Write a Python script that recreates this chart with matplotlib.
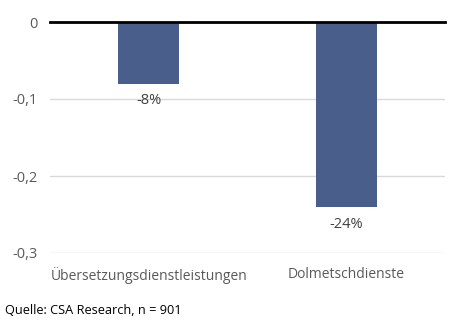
import matplotlib.pyplot as plt
from matplotlib.ticker import FuncFormatter

# Veränderung der Nachfrage nach Dienstleistungen
kategorien = ['Übersetzungsdienstleistungen', 'Dolmetschdienste']
werte = [-0.08, -0.24]
beschriftungen = ['-8%', '-24%']
y_ticks = [0, -0.1, -0.2, -0.3]

plt.rcParams['font.family'] = ['Open Sans', 'DejaVu Sans']

fig = plt.figure(figsize=(4.55, 3.22), dpi=100)
ax = fig.add_axes([50 / 455, 1 - 253 / 322, 395 / 455, 231 / 322])

x = range(len(kategorien))
bars = ax.bar(x, werte, width=0.31, color='#4A5E8C', zorder=3)

for b, txt in zip(bars, beschriftungen):
    ax.annotate(txt, (b.get_x() + b.get_width() / 2, b.get_height()),
                xytext=(0, -7), textcoords='offset points',
                ha='center', va='top', fontsize=10.5, color='#404040')

ax.set_xlim(-0.5, 1.5)
ax.set_ylim(-0.3, 0)
ax.set_yticks(y_ticks)
ax.yaxis.set_major_formatter(FuncFormatter(
    lambda v, p: '0' if abs(v) < 1e-9 else f'{v:.1f}'.replace('.', ',')))
ax.grid(axis='y', color='#D9D9D9', linewidth=1, zorder=0)
ax.axhline(0, color='black', linewidth=2, zorder=4, clip_on=False)

ax.set_xticks(list(x))
ax.set_xticklabels(kategorien)
ax.tick_params(axis='both', length=0, labelsize=10, colors='#595959')
ax.tick_params(axis='y', pad=9, labelsize=10.5)
ax.tick_params(axis='x', pad=10)
for s in ax.spines.values():
    s.set_visible(False)

fig.text(5 / 455, 1 - 310 / 322, 'Quelle: CSA Research, n = 901',
         fontsize=9.2, color='black', va='center')

fig.savefig('out.png', dpi=100)
